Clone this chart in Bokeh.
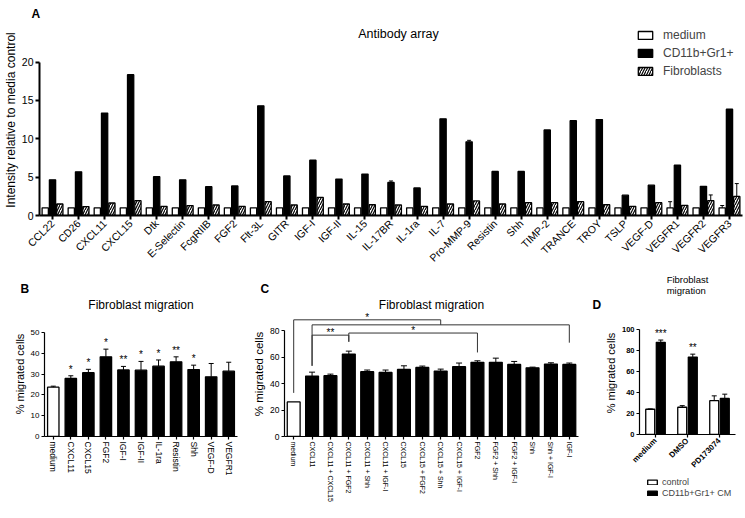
from math import pi
import numpy as np
from bokeh.plotting import figure
from bokeh.layouts import column, row
from bokeh.models import ColumnDataSource, FactorRange, Range1d, Legend, LegendItem, Label, Title
from bokeh.transform import dodge
from bokeh.core.properties import value
from bokeh.embed import file_html
from bokeh.resources import INLINE

FONT = "Liberation Sans"

# ---------------- Panel A : antibody array ----------------
antibodies = ["CCL22", "CD26", "CXCL11", "CXCL15", "Dtk", "E-Selectin", "FcgRIIB", "FGF2",
              "Flt-3L", "GITR", "IGF-I", "IGF-II", "IL-15", "IL-17BR", "IL-1ra", "IL-7",
              "Pro-MMP-9", "Resistin", "Shh", "TIMP-2", "TRANCE", "TROY", "TSLP", "VEGF-D",
              "VEGFR1", "VEGFR2", "VEGFR3"]
a_medium = [1.0, 1.0, 1.0, 1.0, 1.0, 1.0, 1.0, 1.0, 1.0, 1.0, 1.0, 1.0, 1.0, 1.0,
            1.0, 1.0, 1.0, 1.0, 1.0, 1.0, 1.0, 1.0, 1.0, 1.0, 1.0, 1.0, 1.0]
a_cd11b = [4.65, 5.7, 13.35, 18.35, 5.05, 4.65, 3.75, 3.85, 14.3, 5.15, 7.2, 4.75, 5.4,
           4.3, 3.6, 12.6, 9.6, 5.75, 5.75, 11.15, 12.35, 12.5, 2.65, 3.95, 6.55, 3.8, 13.85]
a_fibro = [1.5, 1.16, 1.63, 1.93, 1.2, 1.29, 1.37, 1.2, 1.8, 1.37, 2.36, 1.5, 1.4,
           1.37, 1.2, 1.5, 1.9, 1.5, 1.67, 1.67, 1.8, 1.4, 1.2, 1.67, 1.33, 1.93, 2.49]
a_medium_err = [0, 0, 0, 0, 0, 0, 0, 0, 0, 0, 0, 0, 0, 0, 0, 0, 0, 0, 0, 0, 0, 0, 0, 0, 0.8, 0, 0.3]
a_cd11b_err = [0, 0, 0, 0, 0, 0, 0, 0, 0, 0, 0, 0, 0, 0.2, 0, 0, 0.2, 0, 0, 0, 0, 0, 0, 0, 0, 0, 0]
a_fibro_err = [0, 0, 0, 0, 0, 0, 0, 0, 0, 0, 0, 0, 0, 0, 0, 0, 0, 0, 0, 0, 0, 0, 0, 0, 0, 0.75, 1.67]
a_series = ["medium", "CD11b+Gr1+", "Fibroblasts"]
a_ticks = [0, 5, 10, 15, 20]

# ---------------- Panel B ----------------
b_treat = ["medium", "CXCL11", "CXCL15", "FGF2", "IGF-I", "IGF-II", "IL-1ra", "Resistin",
           "Shh", "VEGF-D", "VEGFR1"]
b_mean = [23.7, 27.9, 30.7, 38.3, 32.0, 31.9, 33.8, 35.9, 32.2, 28.7, 31.4]
b_err = [0.5, 1.3, 1.6, 3.7, 1.7, 4.2, 3.0, 2.4, 2.1, 6.4, 4.3]
b_sig = ["", "*", "*", "*", "**", "*", "*", "**", "*", "", ""]
b_ticks = [0, 10, 20, 30, 40, 50]

# ---------------- Panel C ----------------
c_treat = ["medium", "CXCL11", "CXCL11 + CXCL15", "CXCL11 + FGF2", "CXCL11 + Shh",
           "CXCL11 + IGF-I", "CXCL15", "CXCL15 + FGF2", "CXCL15 + Shh", "CXCL15 + IGF-I",
           "FGF2", "FGF2 + Shh", "FGF2 + IGF-I", "Shh", "Shh + IGF-I", "IGF-I"]
c_mean = [26.2, 45.7, 46.0, 62.4, 49.0, 48.5, 50.8, 52.3, 49.5, 52.8, 56.1, 56.1, 54.5,
          52.0, 54.8, 54.5]
c_err = [0, 3.0, 1.2, 2.2, 1.3, 1.8, 2.7, 1.0, 1.5, 2.8, 1.2, 3.2, 2.3, 0.5, 1.0, 1.1]
c_ticks = [0, 20, 40, 60, 80]
c_br_left = ["medium", "CXCL11", "CXCL11", "CXCL11 + FGF2"]
c_br_right = [("CXCL11", "IGF-I"), "IGF-I", "CXCL11 + FGF2", "FGF2"]
c_br_top = [88.3, 84.5, 76.7, 78.3]
c_br_left_low = [33.0, 53.5, 53.5, 71.7]
c_br_right_low = [84.5, 71.0, 71.7, 63.6]
c_br_text = ["*", "", "**", "*"]

# ---------------- Panel D ----------------
d_groups = ["medium", "DMSO", "PD173074"]
d_control = [24.0, 25.9, 32.1]
d_control_err = [0.3, 1.5, 4.6]
d_cm = [87.5, 73.5, 34.3]
d_cm_err = [2.2, 2.8, 4.0]
d_sig = ["***", "**", ""]
d_series = ["control", "CD11b+Gr1+ CM"]
d_ticks = [0, 20, 40, 60, 80, 100]


def style(p, tick_fs, xlab_fs, lab_fs, lw, bold=False):
    for ax in (p.xaxis[0], p.yaxis[0]):
        ax.axis_line_width = lw
        ax.axis_line_color = "black"
        ax.major_tick_line_width = lw
        ax.major_tick_line_color = "black"
        ax.major_tick_in = 0
        ax.major_tick_out = 3
        ax.minor_tick_line_color = None
        ax.major_label_text_font = FONT
        ax.major_label_text_color = "black"
        ax.major_label_standoff = 2
        ax.axis_label_text_font = FONT
        ax.axis_label_text_font_style = "normal"
        ax.axis_label_text_color = "black"
        ax.axis_label_standoff = 2
        if bold:
            ax.major_label_text_font_style = "bold"
    p.xaxis[0].major_label_text_font_size = xlab_fs
    p.yaxis[0].major_label_text_font_size = tick_fs
    p.yaxis[0].axis_label_text_font_size = lab_fs
    p.xgrid.visible = False
    p.ygrid.visible = False
    p.outline_line_color = None


def title(text, size, offset, standoff, align="center", bold=False):
    return Title(text=text, align=align, offset=offset, standoff=standoff,
                 text_font=FONT, text_font_size=size, text_color="black",
                 text_font_style="bold" if bold else "normal")


def add_errors(p, cats, vals, errs, offset, cap):
    keep = [i for i, e in enumerate(errs) if e > 0]
    src = ColumnDataSource(dict(x=[cats[i] for i in keep],
                                y0=[vals[i] for i in keep],
                                y1=[vals[i] + errs[i] for i in keep]))
    p.segment(x0=dodge("x", offset, range=p.x_range), y0="y0",
              x1=dodge("x", offset, range=p.x_range), y1="y1",
              line_color="black", line_width=1, source=src)
    p.scatter(x=dodge("x", offset, range=p.x_range), y="y1", marker="dash", size=cap,
              line_color="black", line_width=1, source=src)


# ================= Figure A =================
pA = figure(width=745, height=270, x_range=FactorRange(*antibodies), y_range=Range1d(0, 24.9),
            output_backend="svg", toolbar_location=None, title=None,
            min_border_left=38, min_border_right=3, min_border_top=22, min_border_bottom=55)
srcA = ColumnDataSource(dict(ab=antibodies, med=a_medium, cd=a_cd11b, fib=a_fibro))
rMed = pA.vbar(x=dodge("ab", -0.28, range=pA.x_range), top="med", width=0.24,
               fill_color="white", line_color="black", line_width=1.3, source=srcA)
rCd = pA.vbar(x=dodge("ab", 0.0, range=pA.x_range), top="cd", width=0.24,
              fill_color="black", line_color="black", line_width=1.3, source=srcA)
rFib = pA.vbar(x=dodge("ab", 0.28, range=pA.x_range), top="fib", width=0.24,
               fill_color="white", line_color="black", line_width=1.3,
               hatch_pattern="/", hatch_color="black", hatch_scale=5, hatch_weight=1.2,
               source=srcA)
add_errors(pA, antibodies, a_medium, a_medium_err, -0.28, 4)
add_errors(pA, antibodies, a_cd11b, a_cd11b_err, 0.0, 4)
add_errors(pA, antibodies, a_fibro, a_fibro_err, 0.28, 4)
style(pA, "10.5px", "10.5px", "12px", 2)
pA.xaxis[0].major_label_orientation = pi / 4
pA.xaxis[0].major_tick_out = 4
pA.yaxis[0].major_tick_out = 4
pA.yaxis[0].ticker = a_ticks
pA.yaxis[0].bounds = (0, 20)
pA.yaxis[0].axis_label = "Intensity relative to media control"
pA.yaxis[0].axis_label_standoff = 1
pA.add_layout(title("A", "12px", -8, 8, align="left", bold=True), "above")
pA.add_layout(Label(x=359, y=182, x_units="screen", y_units="screen", text="Antibody array",
                    text_font=FONT, text_font_size="12.5px", text_align="center",
                    text_baseline="middle", text_color="black"))
legA = Legend(items=[LegendItem(label=a_series[0], renderers=[rMed]),
                     LegendItem(label=a_series[1], renderers=[rCd]),
                     LegendItem(label=a_series[2], renderers=[rFib])],
              location=(597, 135), glyph_width=18, glyph_height=10, label_height=18,
              spacing=0, padding=0, margin=0, label_standoff=9,
              label_text_font=FONT, label_text_font_size="12px",
              border_line_color=None, background_fill_alpha=0)
pA.add_layout(legA)

ROW_H = 248
TOP_B = 41
BOT_B = 82

# ================= Figure B =================
pB = figure(width=240, height=ROW_H, x_range=FactorRange(*b_treat), y_range=Range1d(0, 60.1),
            output_backend="svg", toolbar_location=None, title=None,
            min_border_left=44, min_border_right=3, min_border_top=TOP_B, min_border_bottom=BOT_B)
b_fill = ["white" if t == "medium" else "black" for t in b_treat]
srcB = ColumnDataSource(dict(t=b_treat, m=b_mean, hi=[m + e for m, e in zip(b_mean, b_err)],
                             sig=b_sig, fill=b_fill))
pB.vbar(x="t", top="m", width=0.65, fill_color="fill", line_color="black", line_width=1.3,
        source=srcB)
add_errors(pB, b_treat, b_mean, b_err, 0.0, 5)
pB.text(x="t", y="hi", text="sig", source=srcB, text_align="center", text_baseline="bottom",
        text_font=value(FONT), text_font_size="10px", y_offset=-1, text_color="black")
style(pB, "8px", "8.5px", "11px", 1.2)
pB.xaxis[0].major_label_orientation = "vertical"
pB.yaxis[0].ticker = b_ticks
pB.yaxis[0].bounds = (0, 50)
pB.yaxis[0].axis_label = "% migrated cells"
pB.add_layout(title("Fibroblast migration", "12px", -7, 0), "above")
pB.add_layout(title("B", "12px", -24, 0, align="left", bold=True), "above")

# ================= Figure C =================
pC = figure(width=340, height=ROW_H, x_range=FactorRange(*c_treat), y_range=Range1d(0, 94.6),
            output_backend="svg", toolbar_location=None, title=None,
            min_border_left=44, min_border_right=2, min_border_top=TOP_B, min_border_bottom=BOT_B)
c_fill = ["white" if t == "medium" else "black" for t in c_treat]
srcC = ColumnDataSource(dict(t=c_treat, m=c_mean, fill=c_fill))
pC.vbar(x="t", top="m", width=0.7, fill_color="fill", line_color="black", line_width=1.3,
        source=srcC)
add_errors(pC, c_treat, c_mean, c_err, 0.0, 6)


def cpos(f):
    if isinstance(f, tuple):
        return (cpos(f[0]) + cpos(f[1])) / 2
    return c_treat.index(f) + 0.5


br_xs, br_ys, br_tx, br_ty, br_t = [], [], [], [], []
for l, r, top, ll, rl, t in zip(c_br_left, c_br_right, c_br_top, c_br_left_low,
                                c_br_right_low, c_br_text):
    xl, xr = cpos(l), cpos(r)
    br_xs.append([xl, xl, xr, xr])
    br_ys.append([ll, top, top, rl])
    br_tx.append((xl + xr) / 2)
    br_ty.append(top)
    br_t.append(t)
pC.multi_line(xs=br_xs, ys=br_ys, line_color="#333333", line_width=1)
pC.text(x=br_tx, y=br_ty, text=br_t, text_align="center", text_baseline="bottom",
        text_font=value(FONT), text_font_size="10px", y_offset=3, text_color="black")
style(pC, "8.5px", "7px", "11.5px", 1.2)
pC.xaxis[0].major_label_orientation = "vertical"
pC.yaxis[0].ticker = c_ticks
pC.yaxis[0].bounds = (0, 80)
pC.yaxis[0].axis_label = "% migrated cells"
pC.add_layout(title("Fibroblast migration", "12px", 2, 0), "above")
pC.add_layout(title("C", "12px", -24, 0, align="left", bold=True), "above")

# ================= Figure D =================
D_H = 205
D_LEFT = 59
D_RIGHT = 10
pD = figure(width=165, height=D_H, x_range=FactorRange(*d_groups), y_range=Range1d(0, 116.8),
            output_backend="svg", toolbar_location=None, title=None,
            min_border_left=D_LEFT, min_border_right=D_RIGHT, min_border_top=TOP_B,
            min_border_bottom=39)
srcD = ColumnDataSource(dict(g=d_groups, c=d_control, cm=d_cm,
                             hi=[m + e for m, e in zip(d_cm, d_cm_err)], sig=d_sig))
pD.vbar(x=dodge("g", -0.165, range=pD.x_range), top="c", width=0.28,
        fill_color="white", line_color="black", line_width=1.3, source=srcD)
pD.vbar(x=dodge("g", 0.165, range=pD.x_range), top="cm", width=0.28,
        fill_color="black", line_color="black", line_width=1.3, source=srcD)
add_errors(pD, d_groups, d_control, d_control_err, -0.165, 5)
add_errors(pD, d_groups, d_cm, d_cm_err, 0.165, 5)
pD.text(x=dodge("g", 0.165, range=pD.x_range), y="hi", text="sig", source=srcD,
        text_align="center", text_baseline="bottom", text_font=value(FONT),
        text_font_size="10px", y_offset=-1, text_color="black")
style(pD, "7.5px", "8px", "11px", 1.2, bold=True)
pD.xaxis[0].major_label_orientation = pi / 4
pD.yaxis[0].ticker = d_ticks
pD.yaxis[0].bounds = (0, 100)
pD.yaxis[0].axis_label = "% migrated cells"
pD.add_layout(title("D", "12px", -47, 0, align="left", bold=True), "above")
pD.add_layout(title("Fibroblast\nmigration", "9.5px", -4, 0), "above")

# legend strip for panel D: key swatches only (the single NaN row draws no bar)
pL = figure(width=165, height=ROW_H - D_H, x_range=Range1d(0, 1), y_range=Range1d(0, 1),
            output_backend="svg", toolbar_location=None, title=None,
            x_axis_location=None, y_axis_location=None,
            min_border_left=D_LEFT, min_border_right=D_RIGHT, min_border_top=0,
            min_border_bottom=0)
pL.xgrid.visible = False
pL.ygrid.visible = False
pL.outline_line_color = None
key_src = ColumnDataSource(dict(x=np.array([np.nan]), top=np.array([np.nan])))
kCtl = pL.vbar(x="x", top="top", width=0.1, fill_color="white", line_color="black",
               line_width=1.3, source=key_src)
kCM = pL.vbar(x="x", top="top", width=0.1, fill_color="black", line_color="black",
              line_width=1.3, source=key_src)
legD = Legend(items=[LegendItem(label=d_series[0], renderers=[kCtl]),
                     LegendItem(label=d_series[1], renderers=[kCM])],
              location=(7, 20), glyph_width=12, glyph_height=6, label_height=11,
              spacing=0, padding=0, margin=0, label_standoff=4,
              label_text_font=FONT, label_text_font_size="9px",
              border_line_color=None, background_fill_alpha=0)
pL.add_layout(legD)

layout = column(pA, row(pB, pC, column(pD, pL, spacing=0), spacing=0), spacing=0)
open("out.html", "w").write(file_html(layout, INLINE))
